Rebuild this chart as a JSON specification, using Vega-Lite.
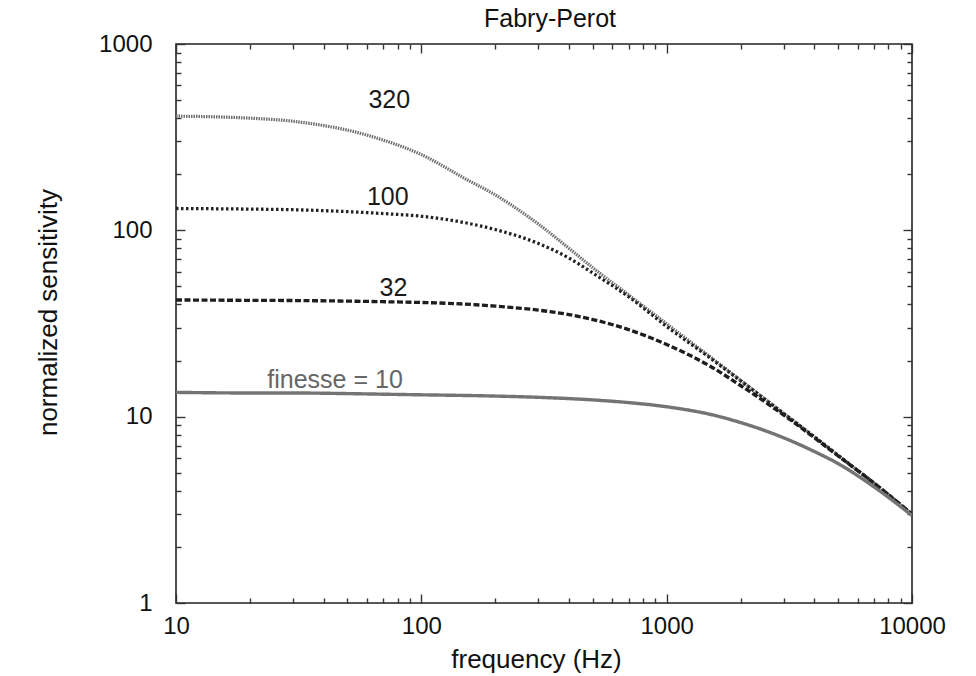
{
  "$schema": "https://vega.github.io/schema/vega-lite/v6.json",
  "width": 736,
  "height": 559,
  "autosize": "none",
  "padding": {"left": 176, "top": 44, "right": 64, "bottom": 73},
  "background": "white",
  "title": {"text": "Fabry-Perot", "fontSize": 25, "font": "Liberation Sans", "fontWeight": "normal", "color": "#111", "offset": 10, "dy": 10, "dx": 6},
  "config": {
    "view": {"stroke": "#222", "strokeWidth": 1.6},
    "font": "Liberation Sans",
    "axis": {"domain": false, "grid": false, "tickColor": "#333", "tickWidth": 1.4, "labelFont": "Liberation Sans", "labelFontSize": 24, "labelColor": "#111", "titleFont": "Liberation Sans", "titleFontWeight": "normal", "titleColor": "#111", "titleFontSize": 26}
  },
  "datasets": {
    "curves": [
      {"f": 10, "v": 410, "finesse": "320"}, {"f": 15, "v": 406, "finesse": "320"}, {"f": 20, "v": 400, "finesse": "320"}, {"f": 30, "v": 385, "finesse": "320"}, {"f": 40, "v": 365, "finesse": "320"}, {"f": 50, "v": 345, "finesse": "320"}, {"f": 70, "v": 305, "finesse": "320"}, {"f": 100, "v": 255, "finesse": "320"}, {"f": 150, "v": 190, "finesse": "320"}, {"f": 200, "v": 155, "finesse": "320"}, {"f": 300, "v": 108, "finesse": "320"}, {"f": 400, "v": 80, "finesse": "320"}, {"f": 500, "v": 63, "finesse": "320"}, {"f": 700, "v": 45, "finesse": "320"}, {"f": 1000, "v": 31.5, "finesse": "320"}, {"f": 1500, "v": 21, "finesse": "320"}, {"f": 2000, "v": 15.7, "finesse": "320"}, {"f": 3000, "v": 10.4, "finesse": "320"}, {"f": 4000, "v": 7.8, "finesse": "320"}, {"f": 5000, "v": 6.2, "finesse": "320"}, {"f": 7000, "v": 4.4, "finesse": "320"}, {"f": 10000, "v": 3.0, "finesse": "320"},
      {"f": 10, "v": 131, "finesse": "100"}, {"f": 15, "v": 130.5, "finesse": "100"}, {"f": 20, "v": 130, "finesse": "100"}, {"f": 30, "v": 129, "finesse": "100"}, {"f": 40, "v": 127.5, "finesse": "100"}, {"f": 50, "v": 126, "finesse": "100"}, {"f": 70, "v": 123, "finesse": "100"}, {"f": 100, "v": 119, "finesse": "100"}, {"f": 150, "v": 110, "finesse": "100"}, {"f": 200, "v": 101, "finesse": "100"}, {"f": 300, "v": 85, "finesse": "100"}, {"f": 400, "v": 71, "finesse": "100"}, {"f": 500, "v": 59, "finesse": "100"}, {"f": 700, "v": 44, "finesse": "100"}, {"f": 1000, "v": 30.5, "finesse": "100"}, {"f": 1500, "v": 20.7, "finesse": "100"}, {"f": 2000, "v": 15.6, "finesse": "100"}, {"f": 3000, "v": 10.4, "finesse": "100"}, {"f": 4000, "v": 7.8, "finesse": "100"}, {"f": 5000, "v": 6.2, "finesse": "100"}, {"f": 7000, "v": 4.4, "finesse": "100"}, {"f": 10000, "v": 3.0, "finesse": "100"},
      {"f": 10, "v": 42.3, "finesse": "32"}, {"f": 20, "v": 42.1, "finesse": "32"}, {"f": 30, "v": 42, "finesse": "32"}, {"f": 50, "v": 41.7, "finesse": "32"}, {"f": 70, "v": 41.4, "finesse": "32"}, {"f": 100, "v": 41, "finesse": "32"}, {"f": 150, "v": 40.2, "finesse": "32"}, {"f": 200, "v": 39.2, "finesse": "32"}, {"f": 300, "v": 37.3, "finesse": "32"}, {"f": 400, "v": 35.3, "finesse": "32"}, {"f": 500, "v": 33.2, "finesse": "32"}, {"f": 700, "v": 29.3, "finesse": "32"}, {"f": 1000, "v": 24.4, "finesse": "32"}, {"f": 1500, "v": 18.7, "finesse": "32"}, {"f": 2000, "v": 14.7, "finesse": "32"}, {"f": 3000, "v": 10.2, "finesse": "32"}, {"f": 4000, "v": 7.7, "finesse": "32"}, {"f": 5000, "v": 6.15, "finesse": "32"}, {"f": 7000, "v": 4.4, "finesse": "32"}, {"f": 10000, "v": 3.0, "finesse": "32"},
      {"f": 10, "v": 13.5, "finesse": "10"}, {"f": 20, "v": 13.4, "finesse": "10"}, {"f": 30, "v": 13.4, "finesse": "10"}, {"f": 50, "v": 13.3, "finesse": "10"}, {"f": 70, "v": 13.2, "finesse": "10"}, {"f": 100, "v": 13.1, "finesse": "10"}, {"f": 200, "v": 12.9, "finesse": "10"}, {"f": 300, "v": 12.7, "finesse": "10"}, {"f": 500, "v": 12.3, "finesse": "10"}, {"f": 700, "v": 11.9, "finesse": "10"}, {"f": 1000, "v": 11.3, "finesse": "10"}, {"f": 1500, "v": 10.3, "finesse": "10"}, {"f": 2000, "v": 9.3, "finesse": "10"}, {"f": 3000, "v": 7.7, "finesse": "10"}, {"f": 4000, "v": 6.5, "finesse": "10"}, {"f": 5000, "v": 5.6, "finesse": "10"}, {"f": 7000, "v": 4.2, "finesse": "10"}, {"f": 10000, "v": 2.95, "finesse": "10"}
    ],
    "labels": [
      {"f": 74, "v": 500, "label": "320", "finesse": "320"},
      {"f": 73, "v": 151, "label": "100", "finesse": "100"},
      {"f": 77, "v": 49, "label": "32", "finesse": "32"},
      {"f": 44.5, "v": 15.7, "label": "finesse = 10", "finesse": "10"}
    ]
  },
  "resolve": {"axis": {"x": "independent", "y": "independent"}},
  "layer": [
    {
      "data": {"name": "curves"},
      "mark": {"type": "line", "interpolate": "monotone", "clip": true},
      "encoding": {
        "x": {"field": "f", "type": "quantitative", "scale": {"type": "log", "domain": [10, 10000], "nice": false},
              "axis": {"orient": "bottom", "values": [10, 100, 1000, 10000], "tickSize": -9, "labelPadding": 20, "format": "d", "labelFlush": false,
                       "title": "frequency (Hz)", "titleX": 360, "titleY": 56, "titleBaseline": "middle", "titleAlign": "center"}},
        "y": {"field": "v", "type": "quantitative", "scale": {"type": "log", "domain": [1, 1000], "nice": false},
              "axis": {"orient": "left", "values": [1, 10, 100, 1000], "tickSize": -9, "labelPadding": 33, "format": "d", "labelFlush": false,
                       "title": "normalized sensitivity", "titleX": -128, "titleY": 268, "titleAngle": -90, "titleBaseline": "middle", "titleAlign": "center"}},
        "detail": {"field": "finesse"},
        "color": {"field": "finesse", "type": "nominal", "scale": {"domain": ["320", "100", "32", "10"], "range": ["#6e6e6e", "#222222", "#1e1e1e", "#747474"]}, "legend": null},
        "strokeDash": {"field": "finesse", "type": "nominal", "scale": {"domain": ["320", "100", "32", "10"], "range": [[1.5, 1], [2.5, 2.5], [6, 2.5], [1, 0]]}, "legend": null},
        "size": {"field": "finesse", "type": "ordinal", "scale": {"domain": ["320", "100", "32", "10"], "range": [3.2, 3.4, 3.4, 2.6]}, "legend": null}
      }
    },
    {
      "data": {"name": "labels"},
      "mark": {"type": "text", "fontSize": 25, "font": "Liberation Sans", "align": "center", "baseline": "middle"},
      "encoding": {
        "x": {"field": "f", "type": "quantitative", "scale": {"type": "log", "domain": [10, 10000], "nice": false},
              "axis": {"orient": "bottom", "values": [20, 30, 40, 50, 60, 70, 80, 90, 200, 300, 400, 500, 600, 700, 800, 900, 2000, 3000, 4000, 5000, 6000, 7000, 8000, 9000], "tickSize": -5, "labels": false, "title": null}},
        "y": {"field": "v", "type": "quantitative", "scale": {"type": "log", "domain": [1, 1000], "nice": false},
              "axis": {"orient": "left", "values": [2, 3, 4, 5, 6, 7, 8, 9, 20, 30, 40, 50, 60, 70, 80, 90, 200, 300, 400, 500, 600, 700, 800, 900], "tickSize": -5, "labels": false, "title": null}},
        "text": {"field": "label"},
        "color": {"condition": {"test": "datum.finesse === '10'", "value": "#666666"}, "value": "#1a1a1a"}
      }
    },
    {
      "data": {"name": "labels"},
      "mark": {"type": "point", "opacity": 0},
      "encoding": {
        "x": {"field": "f", "type": "quantitative", "scale": {"type": "log", "domain": [10, 10000], "nice": false},
              "axis": {"orient": "top", "values": [10, 100, 1000, 10000], "tickSize": -9, "labels": false, "title": null}},
        "y": {"field": "v", "type": "quantitative", "scale": {"type": "log", "domain": [1, 1000], "nice": false},
              "axis": {"orient": "right", "values": [1, 10, 100, 1000], "tickSize": -9, "labels": false, "title": null}}
      }
    },
    {
      "data": {"name": "labels"},
      "mark": {"type": "point", "opacity": 0},
      "encoding": {
        "x": {"field": "f", "type": "quantitative", "scale": {"type": "log", "domain": [10, 10000], "nice": false},
              "axis": {"orient": "top", "values": [20, 30, 40, 50, 60, 70, 80, 90, 200, 300, 400, 500, 600, 700, 800, 900, 2000, 3000, 4000, 5000, 6000, 7000, 8000, 9000], "tickSize": -5, "labels": false, "title": null}},
        "y": {"field": "v", "type": "quantitative", "scale": {"type": "log", "domain": [1, 1000], "nice": false},
              "axis": {"orient": "right", "values": [2, 3, 4, 5, 6, 7, 8, 9, 20, 30, 40, 50, 60, 70, 80, 90, 200, 300, 400, 500, 600, 700, 800, 900], "tickSize": -5, "labels": false, "title": null}}
      }
    }
  ]
}
